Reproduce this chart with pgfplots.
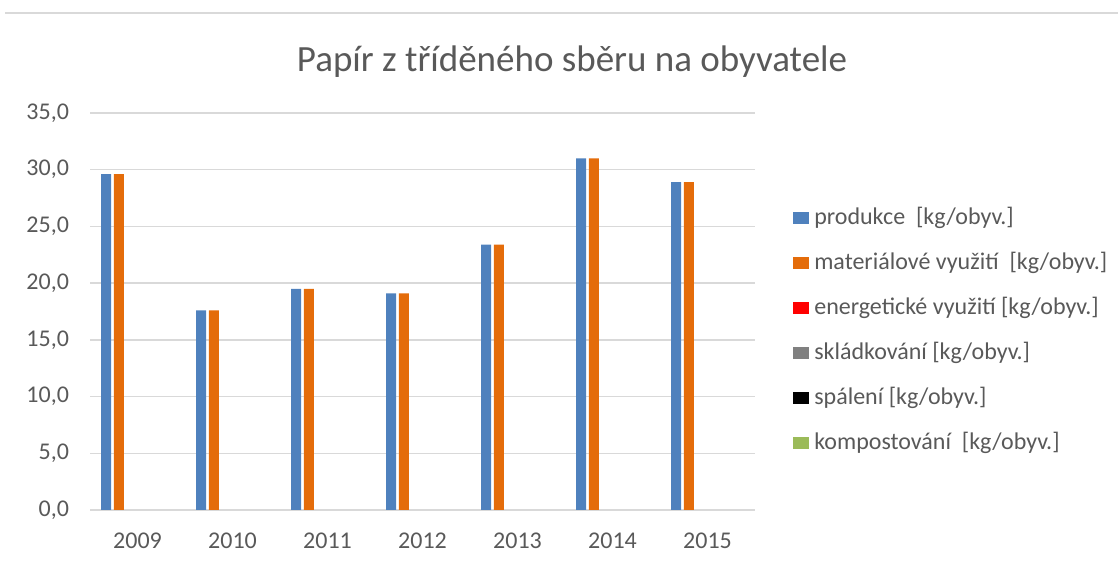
\documentclass[border=0pt]{standalone}
\usepackage{pgfplots}
\pgfplotsset{compat=1.18}
\usepackage{fontspec}
\setmainfont{Carlito}
\definecolor{txt}{RGB}{89,89,89}
\definecolor{gridc}{RGB}{217,217,217}
\definecolor{cblue}{RGB}{79,129,189}
\definecolor{corange}{RGB}{228,108,10}
\definecolor{cred}{RGB}{255,0,0}
\definecolor{cgray}{RGB}{128,128,128}
\definecolor{cblack}{RGB}{0,0,0}
\definecolor{cgreen}{RGB}{155,187,89}
\pgfplotsset{
  sq/.style={legend image code/.code={\fill[#1] (0pt,-3pt) rectangle (8pt,3pt); \path (10.5pt,0pt);}}
}
\begin{document}
\begin{tikzpicture}[x=1pt,y=1pt]
\path[use as bounding box] (0,0) rectangle (559,280.5);
\draw[gridc, line width=0.75pt] (2.5,274) -- (559,274);
\node[anchor=base, font=\fontsize{18.5}{22}\selectfont, text=txt] at (286,244.5) {Papír z tříděného sběru na obyvatele};
\begin{axis}[
  at={(45pt,25.5pt)}, anchor=south west,
  scale only axis, width=332.5pt, height=198.5pt,
  xmin=-0.5, xmax=6.5, ymin=0, ymax=35,
  ytick={0,5,...,35},
  xtick={0,...,6},
  xticklabels={2009,2010,2011,2012,2013,2014,2015},
  ymajorgrids, grid style={gridc, line width=0.75pt},
  axis line style={draw=none},
  major tick length=0pt,
  tick label style={font=\fontsize{12}{14}\selectfont, text=txt},
  yticklabel style={xshift=-7pt},
  xticklabel style={yshift=-8pt},
  /pgf/number format/.cd, use comma, fixed, fixed zerofill, precision=1, assume math mode=true,
  /pgfplots/.cd,
  legend cell align=left,
  legend style={draw=none, fill=none, at={(1.057,0.764)}, anchor=north west,
    font=\fontsize{12}{14}\selectfont, text=txt, inner sep=0pt, row sep=11.5pt,
    nodes={inner sep=0pt, text height=8.5pt, text depth=2.5pt}},
  every axis plot/.append style={ybar, bar width=0.105, draw=none},
]
\addplot[fill=cblue, bar shift=-0.33, sq=cblue] coordinates {(0,29.6) (1,17.6) (2,19.5) (3,19.1) (4,23.4) (5,31.0) (6,28.9)};
\addplot[fill=corange, bar shift=-0.197, sq=corange] coordinates {(0,29.6) (1,17.6) (2,19.5) (3,19.1) (4,23.4) (5,31.0) (6,28.9)};
\addplot[fill=none, bar shift=-0.065, sq=cred] coordinates {(0,0) (1,0) (2,0) (3,0) (4,0) (5,0) (6,0)};
\addplot[fill=none, bar shift=0.066, sq=cgray] coordinates {(0,0) (1,0) (2,0) (3,0) (4,0) (5,0) (6,0)};
\addplot[fill=none, bar shift=0.198, sq=cblack] coordinates {(0,0) (1,0) (2,0) (3,0) (4,0) (5,0) (6,0)};
\addplot[fill=none, bar shift=0.33, sq=cgreen] coordinates {(0,0) (1,0) (2,0) (3,0) (4,0) (5,0) (6,0)};
\legend{produkce\ \ [kg/obyv.], materiálové využití\ \ [kg/obyv.], energetické využití [kg/obyv.], skládkování [kg/obyv.], spálení [kg/obyv.], kompostování\ \ [kg/obyv.]}
\end{axis}
\end{tikzpicture}
\end{document}
